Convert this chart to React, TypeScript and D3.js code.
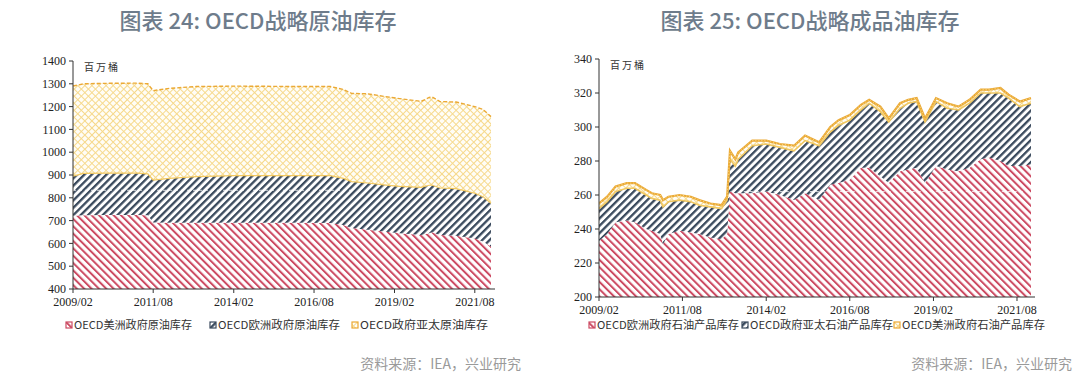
import React from "react";
import * as d3 from "d3";

// ---------- Chart 24: OECD strategic crude stocks (million barrels) ----------
const crudeDates = [
  "2009/02", "2009/06", "2010/02", "2011/02", "2011/06", "2011/08", "2012/02", "2012/12",
  "2014/02", "2015/02", "2016/02", "2017/02", "2017/07", "2017/10", "2018/04", "2018/10",
  "2019/04", "2019/12", "2020/03", "2020/04", "2020/07", "2021/01", "2021/08", "2021/11", "2022/02",
];
const crudeAmericas = [721, 724, 725, 725, 724, 692, 691, 691, 691, 691, 691, 690, 681, 667, 660, 652, 645, 637, 645, 649, 637, 634, 622, 608, 586];
const crudeEurope = [174, 183, 183, 183, 181, 186, 194, 202, 206, 206, 206, 207, 204, 204, 205, 205, 205, 209, 210, 207, 206, 206, 198, 197, 190];
const crudeAsiaPac = [395, 393, 394, 395, 395, 392, 395, 395, 393, 392, 391, 391, 390, 387, 391, 388, 385, 377, 385, 387, 379, 380, 380, 383, 380];
const crudeLegend = ["OECD美洲政府原油库存", "OECD欧洲政府原油库存", "OECD政府亚太原油库存"];
const crudeYTicks = [400, 500, 600, 700, 800, 900, 1000, 1100, 1200, 1300, 1400];

// ---------- Chart 25: OECD strategic product stocks (million barrels) ----------
const prodDates = [
  "2009/02", "2009/05", "2009/08", "2009/12", "2010/03", "2010/07", "2010/09", "2010/12",
  "2011/01", "2011/03", "2011/07", "2011/11", "2012/02", "2012/06", "2012/10", "2012/12",
  "2013/01", "2013/03", "2013/04", "2013/09", "2014/02", "2014/07", "2014/12", "2015/04",
  "2015/09", "2016/01", "2016/04", "2016/08", "2016/12", "2017/03", "2017/07", "2017/10",
  "2018/02", "2018/05", "2018/08", "2018/11", "2019/03", "2019/07", "2019/11", "2020/03",
  "2020/07", "2020/10", "2021/02", "2021/05", "2021/09", "2022/01",
];
const prodEurope = [233, 237, 244, 245, 244, 240, 239, 237, 231, 237, 239, 238, 237, 235, 234, 237,
  262, 261, 261, 261, 262, 260, 257, 261, 257, 266, 267, 269, 276, 276, 271, 267,
  274, 275, 276, 267, 277, 275, 274, 276, 281, 282, 280, 277, 277, 278];
const prodAsiaPac = [19, 19, 18, 19, 20, 20, 19, 20, 22, 19, 18, 18, 17, 18, 18, 20,
  19, 16, 20, 28, 28, 28, 29, 31, 32, 31, 34, 35, 34, 38, 38, 36,
  37, 39, 39, 36, 38, 36, 36, 38, 39, 38, 40, 40, 35, 36];
const prodAmericas = [3, 3, 3, 3, 3, 3, 3, 3, 4, 3, 3, 3, 3, 2, 2, 2,
  5, 4, 4, 3, 2, 2, 3, 3, 2, 3, 3, 3, 3, 2, 3, 2,
  3, 2, 2, 2, 2, 3, 2, 2, 2, 2, 3, 2, 3, 3];
const prodLegend = ["OECD欧洲政府石油产品库存", "OECD政府亚太石油产品库存", "OECD美洲政府石油产品库存"];
const prodYTicks = [200, 220, 240, 260, 280, 300, 320, 340];

const xTickLabels = ["2009/02", "2011/08", "2014/02", "2016/08", "2019/02", "2021/08"];
const unitLabel = "百万桶";

const parse = d3.timeParse("%Y/%m");
const RED = "#cc4a62";
const BLUE = "#3a4a5d";
const YEL = "#f6d98c";
const ORANGE = "#eba935";

type ChartProps = {
  id: string;
  title: string;
  dates: string[];
  series: number[][];
  legend: string[];
  yTicks: number[];
  x0: number; x1: number; yTop: number; yBot: number;
  yellowDashed: boolean;
  legendX: number[];
  legendW: number[];
  titleX: number;
  sourceX: number;
  whiteLine: { v: number; from: string; to: string };
};

function Chart(p: ChartProps) {
  const dts = p.dates.map((d) => parse(d) as Date);
  const rows = dts.map((d, i) => ({ date: d, a: p.series[0][i], b: p.series[1][i], c: p.series[2][i] }));
  const stack = d3.stack<any>().keys(["a", "b", "c"])(rows);
  const x = d3.scaleTime().domain([dts[0], dts[dts.length - 1]]).range([p.x0, p.x1]);
  const y = d3.scaleLinear().domain([p.yTicks[0], p.yTicks[p.yTicks.length - 1]]).range([p.yBot, p.yTop]);
  const area = d3.area<any>().x((d) => x(d.data.date)).y0((d) => y(d[0])).y1((d) => y(d[1]));
  const topLine = d3.line<any>().x((d) => x(d.data.date)).y((d) => y(d[1]));
  const botLine = d3.line<any>().x((d) => x(d.data.date)).y((d) => y(d[0]));
  const fills = [`url(#${p.id}-red)`, `url(#${p.id}-blue)`, `url(#${p.id}-yel)`];
  const tickDates = xTickLabels.map((t) => parse(t) as Date);
  const serif = "'Liberation Serif', 'Times New Roman', serif";
  const cjk = "'Noto Sans CJK SC', sans-serif";
  return (
    <g>
      <defs>
        <clipPath id={`${p.id}-clip`}>
          <rect x={p.x0} y={p.yTop - 2} width={p.x1 - p.x0 + 2} height={p.yBot - p.yTop + 2} />
        </clipPath>
        <pattern id={`${p.id}-red`} width={5.2} height={5.2} patternUnits="userSpaceOnUse" patternTransform="rotate(-45)">
          <rect width={5.2} height={5.2} fill="#fff" />
          <rect width={2} height={5.2} fill={RED} />
        </pattern>
        <pattern id={`${p.id}-blue`} width={5.2} height={5.2} patternUnits="userSpaceOnUse" patternTransform="rotate(45)">
          <rect width={5.2} height={5.2} fill="#fff" />
          <rect width={2.3} height={5.2} fill={BLUE} />
        </pattern>
        <pattern id={`${p.id}-yel`} width={5} height={5} patternUnits="userSpaceOnUse" patternTransform="rotate(45)">
          <rect width={5} height={5} fill="#fffdf6" />
          <rect width={1} height={5} fill={YEL} />
          <rect width={5} height={1} fill={YEL} />
        </pattern>
      </defs>
      <text x={p.titleX} y={29} textAnchor="middle" fontFamily="'Noto Sans CJK SC', sans-serif" fontWeight={500} fontSize={22} fill="#6e7c8b">
        {p.title}
      </text>
      <g clipPath={`url(#${p.id}-clip)`}>
        {stack.map((s, i) => (
          <path key={i} d={area(s) || ""} fill={fills[i]} />
        ))}
        <line x1={x(parse(p.whiteLine.from) as Date)} x2={x(parse(p.whiteLine.to) as Date)} y1={y(p.whiteLine.v)} y2={y(p.whiteLine.v)}
          stroke="#fff" strokeWidth={1} strokeDasharray="3,3" opacity={0.8} />
        {p.yellowDashed ? (
          <g>
            <path d={botLine(stack[2]) || ""} fill="none" stroke="#f2c860" strokeWidth={1.2} />
            <path d={topLine(stack[2]) || ""} fill="none" stroke={ORANGE} strokeWidth={1.4} strokeDasharray="4,2" />
          </g>
        ) : (
          <g>
            <path d={botLine(stack[2]) || ""} fill="none" stroke="#f0c760" strokeWidth={1.6} />
            <path d={topLine(stack[2]) || ""} fill="none" stroke={ORANGE} strokeWidth={2.2} />
            <path d={topLine(stack[2]) || ""} fill="none" stroke="#f8dc8a" strokeWidth={1} strokeDasharray="1,2" />
          </g>
        )}
      </g>
      {/* axes */}
      <line x1={p.x0} x2={p.x0} y1={p.yTop} y2={p.yBot} stroke="#333" strokeWidth={1} />
      <line x1={p.x0} x2={p.x1 + 4} y1={p.yBot} y2={p.yBot} stroke="#333" strokeWidth={1} />
      {p.yTicks.map((t) => (
        <g key={t}>
          <line x1={p.x0 - 4} x2={p.x0} y1={y(t)} y2={y(t)} stroke="#333" />
          <text x={p.x0 - 7} y={y(t)} dy="0.35em" textAnchor="end" fontFamily={serif} fontSize={12} fill="#222">{t}</text>
        </g>
      ))}
      {tickDates.map((d, i) => (
        <g key={i}>
          <line x1={x(d)} x2={x(d)} y1={p.yBot} y2={p.yBot + 4} stroke="#333" />
          <text x={x(d)} y={p.yBot + 17} textAnchor="middle" fontFamily={serif} fontSize={12} fill="#222">{xTickLabels[i]}</text>
        </g>
      ))}
      <text x={p.x0 + 11} y={p.yTop + 10} fontFamily={cjk} fontSize={10} fill="#333" letterSpacing={2}>{unitLabel}</text>
      {/* legend */}
      {p.legend.map((l, i) => (
        <g key={l}>
          <rect x={p.legendX[i]} y={322} width={6} height={6} fill={fills[i]} stroke={[RED, BLUE, ORANGE][i]} strokeWidth={1.2} />
          <text x={p.legendX[i] + 8} y={329} fontFamily={cjk} fontSize={11} fill="#333" textLength={p.legendW[i]} lengthAdjust="spacingAndGlyphs">{l}</text>
        </g>
      ))}
      <text x={p.sourceX} y={369} textAnchor="end" fontFamily={cjk} fontSize={14} fill="#9a9a9a">资料来源：IEA，兴业研究</text>
    </g>
  );
}

export default function App() {
  return (
    <svg width={1080} height={383} style={{ position: "absolute", left: 0, top: 0, background: "#fff" }}>
      <rect width={1080} height={383} fill="#fff" />
      <Chart
        id="c24"
        title="图表 24: OECD战略原油库存"
        dates={crudeDates}
        series={[crudeAmericas, crudeEurope, crudeAsiaPac]}
        legend={crudeLegend}
        yTicks={crudeYTicks}
        x0={73} x1={491} yTop={61} yBot={289}
        yellowDashed={true}
        legendX={[66, 210, 352]}
        legendW={[118, 122, 128]}
        titleX={258}
        sourceX={521}
        whiteLine={{ v: 833, from: "2009/02", to: "2017/10" }}
      />
      <Chart
        id="c25"
        title="图表 25: OECD战略成品油库存"
        dates={prodDates}
        series={[prodEurope, prodAsiaPac, prodAmericas]}
        legend={prodLegend}
        yTicks={prodYTicks}
        x0={599} x1={1031} yTop={59} yBot={297}
        yellowDashed={false}
        legendX={[589, 742, 894]}
        legendW={[142, 143, 143]}
        titleX={810}
        sourceX={1072}
        whiteLine={{ v: 262, from: "2013/06", to: "2022/01" }}
      />
    </svg>
  );
}
